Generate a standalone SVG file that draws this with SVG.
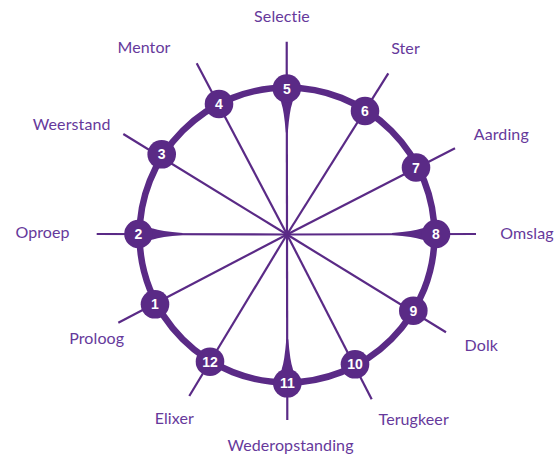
<svg xmlns="http://www.w3.org/2000/svg" xmlns:xlink="http://www.w3.org/1999/xlink" width="558" height="455" viewBox="0 0 558 455">
<style>
.spoke{stroke:#5a2a86;stroke-width:2.2;stroke-linecap:butt;fill:none}
.ring{stroke:#5a2a86;stroke-width:6.5;fill:none}
.wedge{fill:#5a2a86}
.node circle{fill:#5a2a86}
.node text{fill:#ffffff;font-family:"Liberation Sans",Arial,sans-serif;font-weight:bold;font-size:14px;text-anchor:middle}
.label{fill:#66399b;font-family:Lato,"Liberation Sans",sans-serif;font-size:16px;font-weight:400;letter-spacing:0.1px;text-anchor:middle}
</style>
<defs>
<path id="wedge" d="M0,-8 L14.5,-5.5 Q22,-2.8 44,-1 L44,1 Q22,2.8 14.5,5.5 L0,8 Z"/>
</defs>
<rect width="558" height="455" fill="#ffffff"/>
<g id="connectors">
<line class="spoke" x1="287" y1="234.5" x2="286.7" y2="41.7"/>
<line class="spoke" x1="287" y1="234.5" x2="388.3" y2="73.3"/>
<line class="spoke" x1="287" y1="234.5" x2="455" y2="148.3"/>
<line class="spoke" x1="287" y1="234.5" x2="476" y2="234"/>
<line class="spoke" x1="287" y1="234.5" x2="446" y2="332.3"/>
<line class="spoke" x1="287" y1="234.5" x2="371.7" y2="399.3"/>
<line class="spoke" x1="287" y1="234.5" x2="287.3" y2="420"/>
<line class="spoke" x1="287" y1="234.5" x2="189.3" y2="396"/>
<line class="spoke" x1="287" y1="234.5" x2="118.3" y2="322.7"/>
<line class="spoke" x1="287" y1="234.5" x2="96.7" y2="234"/>
<line class="spoke" x1="287" y1="234.5" x2="123.3" y2="134"/>
<line class="spoke" x1="287" y1="234.5" x2="196.7" y2="63.3"/>
<circle class="ring" cx="287" cy="235" r="147.5"/>
<use xlink:href="#wedge" href="#wedge" class="wedge" transform="translate(286.8,88.5) rotate(90)"/>
<use xlink:href="#wedge" href="#wedge" class="wedge" transform="translate(436,234) rotate(180)"/>
<use xlink:href="#wedge" href="#wedge" class="wedge" transform="translate(287.3,383.3) rotate(-90)"/>
<use xlink:href="#wedge" href="#wedge" class="wedge" transform="translate(138.5,234)"/>
</g>
<g id="node1" class="node"><circle cx="155" cy="304.3" r="14.3"/><text x="155" y="309.3">1</text></g>
<g id="node2" class="node"><circle cx="138.5" cy="234" r="14.3"/><text x="138.5" y="239">2</text></g>
<g id="node3" class="node"><circle cx="161.7" cy="154.3" r="14.3"/><text x="161.7" y="159.3">3</text></g>
<g id="node4" class="node"><circle cx="219" cy="104" r="14.3"/><text x="219" y="109">4</text></g>
<g id="node5" class="node"><circle cx="286.8" cy="88.5" r="14.3"/><text x="286.8" y="93.5">5</text></g>
<g id="node6" class="node"><circle cx="365" cy="111" r="14.3"/><text x="365" y="116">6</text></g>
<g id="node7" class="node"><circle cx="416" cy="167.5" r="14.3"/><text x="416" y="172.5">7</text></g>
<g id="node8" class="node"><circle cx="436" cy="234" r="14.3"/><text x="436" y="239">8</text></g>
<g id="node9" class="node"><circle cx="413.3" cy="310.7" r="14.3"/><text x="413.3" y="315.7">9</text></g>
<g id="node10" class="node"><circle cx="355" cy="364.3" r="14.3"/><text x="355" y="369.3">10</text></g>
<g id="node11" class="node"><circle cx="287.3" cy="383.3" r="14.3"/><text x="287.3" y="388.3">11</text></g>
<g id="node12" class="node"><circle cx="210" cy="361.7" r="14.3"/><text x="210" y="366.7">12</text></g>
<g id="labels">
<text class="label" x="282" y="22">Selectie</text>
<text class="label" x="405.5" y="54">Ster</text>
<text class="label" x="501.3" y="140">Aarding</text>
<text class="label" x="527" y="239">Omslag</text>
<text class="label" x="481.3" y="350.7">Dolk</text>
<text class="label" x="413.7" y="425">Terugkeer</text>
<text class="label" x="290.5" y="450.7">Wederopstanding</text>
<text class="label" x="174.3" y="424.3">Elixer</text>
<text class="label" x="96.7" y="344">Proloog</text>
<text class="label" x="42.5" y="238.3">Oproep</text>
<text class="label" x="71.7" y="130">Weerstand</text>
<text class="label" x="144" y="52.7">Mentor</text>
</g>
</svg>
